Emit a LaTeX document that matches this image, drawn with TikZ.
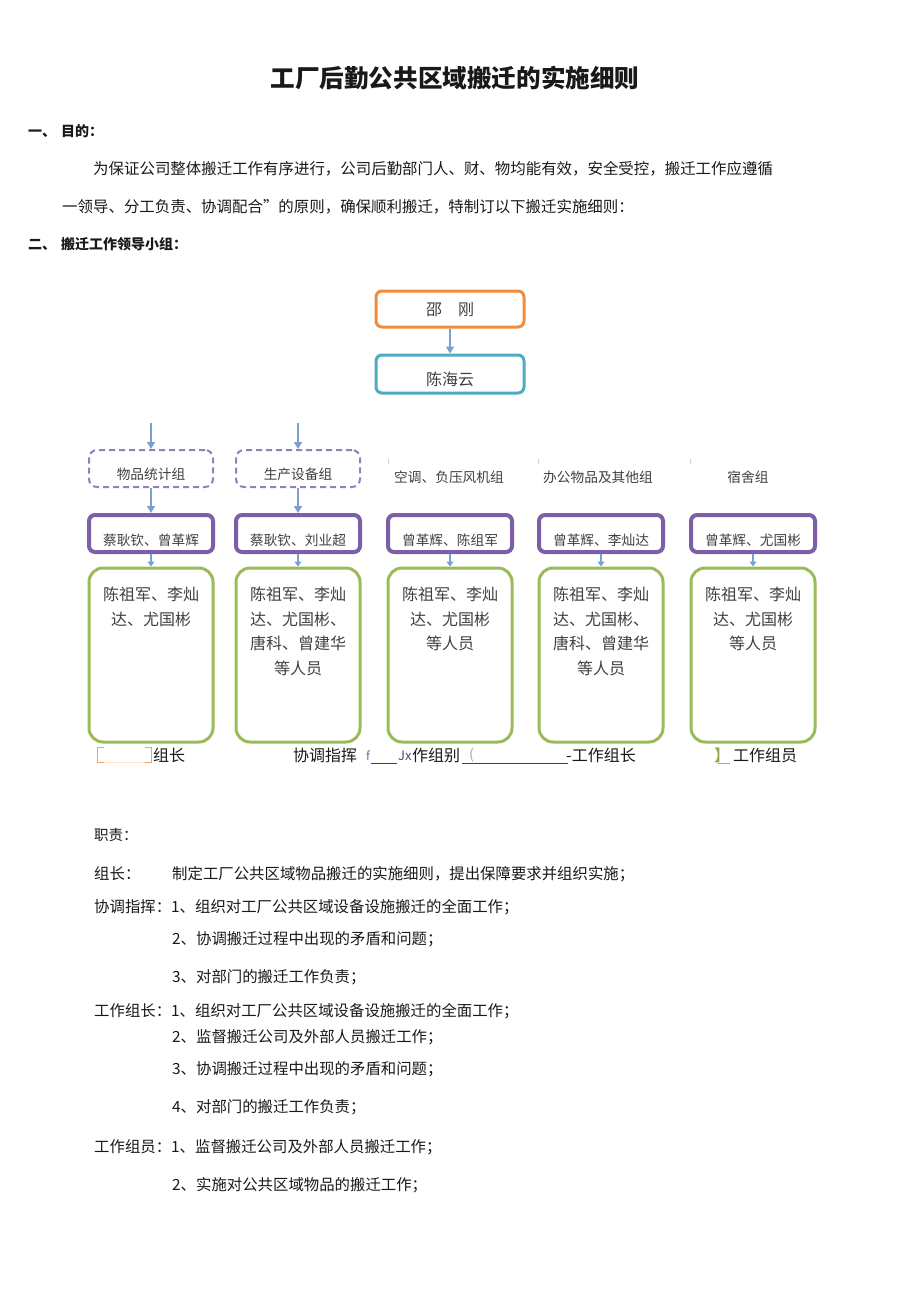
\documentclass[tikz,border=0pt]{standalone}
\usepackage{fontspec}
\setmainfont{Noto Sans CJK SC}
\usetikzlibrary{arrows.meta}
\definecolor{orng}{RGB}{240,140,60}
\definecolor{cyn}{RGB}{75,172,198}
\definecolor{arrowc}{RGB}{123,160,205}
\definecolor{dashc}{RGB}{150,125,190}
\definecolor{purp}{RGB}{125,95,168}
\definecolor{grn}{RGB}{155,187,89}
\definecolor{txtgray}{RGB}{64,64,64}
\definecolor{txtblack}{RGB}{25,25,25}
\newcommand{\fs}[1]{\fontsize{#1}{#1}\selectfont}
\tikzset{
  arr/.style={-{Triangle[width=8pt,length=7pt]}, line width=2pt, draw=arrowc},
  topbox/.style={draw, rounded corners=6pt, line width=3pt, minimum width=148pt, minimum height=36pt},
  dbox/.style={draw=dashc, dash pattern=on 6pt off 4pt, rounded corners=8pt, line width=2pt, minimum width=124pt, minimum height=37pt},
  pbox/.style={draw=purp, line width=4pt, rounded corners=6pt, minimum width=124pt, minimum height=37pt},
  gbox/.style={draw=grn, line width=3pt, rounded corners=14pt, minimum width=124pt, minimum height=174pt},
  ctext/.style={inner sep=0pt, text=txtgray, font=\fs{13.7}},
  gtext/.style={font={\fontsize{16}{24.5}\selectfont}, align=center, anchor=north, inner sep=0pt, text=txtgray},
  body/.style={anchor=west, inner sep=0pt, font=\fs{15.4}, text=txtblack},
  leg/.style={anchor=west, inner sep=0pt, font=\fs{16}, text=txtblack},
  cur/.style={inner sep=0pt, font=\fs{7}, text=gray!60},
}
\begin{document}
\begin{tikzpicture}[x=1pt,y=-1pt]
\useasboundingbox[fill=white] (0,0) rectangle (920,1302);

% title and intro
\node[font=\fs{24.6}\bfseries, text=txtblack] (title) at (455,78) {工厂后勤公共区域搬迁的实施细则};
\node[anchor=west, inner sep=0pt, font=\fs{14}\bfseries, text=txtblack] (h1) at (28,131) {一、\hspace{5pt}目的：};
\node[body, font=\fs{15.45}] (p1) at (93,169) {为保证公司整体搬迁工作有序进行，公司后勤部门人、财、物均能有效，安全受控，搬迁工作应遵循};
\node[body, font=\fs{15.45}] (p2) at (62,207) {一领导、分工负责、协调配合”的原则，确保顺利搬迁，特制订以下搬迁实施细则：};
\node[anchor=west, inner sep=0pt, font=\fs{14}\bfseries, text=txtblack] (h2) at (28,244) {二、\hspace{5pt}搬迁工作领导小组：};

% top boxes
\node[topbox, draw=orng] (shao) at (450,309) {};
\node[inner sep=0pt, text=txtgray, font=\fs{16}] (shaot) at (450,310) {邵\hspace{16pt}刚};
\node[topbox, draw=cyn, minimum height=38pt] (chen) at (450,374) {};
\node[inner sep=0pt, text=txtgray, font=\fs{16}] (chent) at (450,379) {陈海云};
\draw[arr] (shao.south) -- (chen.north);

% second level: groups
\coordinate (a1) at (151,423);
\coordinate (a2) at (298,423);
\node[dbox] (d1) at (151,468.5) {};
\node[dbox] (d2) at (298,468.5) {};
\node[ctext] (d1t) at (151,474) {物品统计组};
\node[ctext] (d2t) at (298,474) {生产设备组};
\draw[arr] (a1) -- (d1.north);
\draw[arr] (a2) -- (d2.north);
\node[ctext] (d3t) at (449,477) {空调、负压风机组};
\node[ctext] (d4t) at (598,477) {办公物品及其他组};
\node[ctext] (d5t) at (748,477) {宿舍组};
\node[cur] (c3) at (389,462) {I};
\node[cur] (c4) at (539,462) {I};
\node[cur] (c5) at (691,462) {I};

% purple leader boxes
\node[pbox] (p1b) at (151,533.5) {};
\node[pbox] (p2b) at (298,533.5) {};
\node[pbox] (p3b) at (450,533.5) {};
\node[pbox] (p4b) at (601,533.5) {};
\node[pbox] (p5b) at (753,533.5) {};
\node[ctext] (p1t) at (151,540) {蔡耿钦、曾革辉};
\node[ctext] (p2t) at (298,540) {蔡耿钦、刘业超};
\node[ctext] (p3t) at (450,540) {曾革辉、陈组军};
\node[ctext] (p4t) at (601,540) {曾革辉、李灿达};
\node[ctext] (p5t) at (753,540) {曾革辉、尤国彬};
\draw[arr] (d1.south) -- (p1b.north);
\draw[arr] (d2.south) -- (p2b.north);

% green member boxes
\node[gbox] (g1) at (151,655) {};
\node[gbox] (g2) at (298,655) {};
\node[gbox] (g3) at (450,655) {};
\node[gbox] (g4) at (601,655) {};
\node[gbox] (g5) at (753,655) {};
\foreach \i in {1,...,5}{\draw[arr, line width=1.5pt, -{Triangle[width=7pt,length=5pt]}] (p\i b.south) -- (g\i.north);}
\node[gtext] (g1t) at (151,587) {陈祖军、李灿\\达、尤国彬};
\node[gtext] (g2t) at (298,587) {陈祖军、李灿\\达、尤国彬、\\唐科、曾建华\\等人员};
\node[gtext] (g3t) at (450,587) {陈祖军、李灿\\达、尤国彬\\等人员};
\node[gtext] (g4t) at (601,587) {陈祖军、李灿\\达、尤国彬、\\唐科、曾建华\\等人员};
\node[gtext] (g5t) at (753,587) {陈祖军、李灿\\达、尤国彬\\等人员};

% legend
\draw[orng!80, line width=0.8pt] (104,747) -- (97,747) -- (97,762) -- (104,762);
\draw[orng!80, line width=0.8pt] (145,747) -- (151,747) -- (151,762) -- (145,762);
\draw[orng!35, line width=0.6pt, densely dotted] (104,762) -- (145,762);
\node[leg] (l1) at (153,755) {组长};
\node[leg] (l2) at (293,755) {协调指挥};
\node[leg, font=\fs{12}, text=purp] (l3) at (366,756) {f};
\draw[txtgray, line width=0.8pt] (371,763) -- (397,763);
\node[leg, font=\fs{13}, text=purp!70!black] (l4) at (398,756) {Jx};
\node[leg] (l5) at (412,755) {作组别};
\draw[txtgray, line width=0.8pt] (462,763) -- (568,763);
\node[leg, font=\fs{14}, text=gray!70] (l6) at (469,755) {(};
\node[leg] (l7) at (566,755) {-工作组长};
\node[leg, text=grn!90!black] (l8) at (714,755) {】};
\draw[grn, line width=0.6pt] (718,763) -- (730,763);
\node[leg] (l9) at (733,755) {工作组员};

% duties
\node[body, font=\fs{14.5}] (z0) at (94,835) {职责：};
\node[body] (z1a) at (94,874) {组长：};
\node[body] (z1b) at (172,874) {制定工厂公共区域物品搬迁的实施细则，提出保障要求并组织实施；};
\node[body] (z2a) at (94,907) {协调指挥：1、组织对工厂公共区域设备设施搬迁的全面工作；};
\node[body] (z2b) at (172,939) {2、协调搬迁过程中出现的矛盾和问题；};
\node[body] (z2c) at (172,977) {3、对部门的搬迁工作负责；};
\node[body] (z3a) at (94,1011) {工作组长：1、组织对工厂公共区域设备设施搬迁的全面工作；};
\node[body] (z3b) at (172,1037) {2、监督搬迁公司及外部人员搬迁工作；};
\node[body] (z3c) at (172,1069) {3、协调搬迁过程中出现的矛盾和问题；};
\node[body] (z3d) at (172,1107) {4、对部门的搬迁工作负责；};
\node[body] (z4a) at (94,1147) {工作组员：1、监督搬迁公司及外部人员搬迁工作；};
\node[body] (z4b) at (172,1185) {2、实施对公共区域物品的搬迁工作；};
\end{tikzpicture}
\end{document}
